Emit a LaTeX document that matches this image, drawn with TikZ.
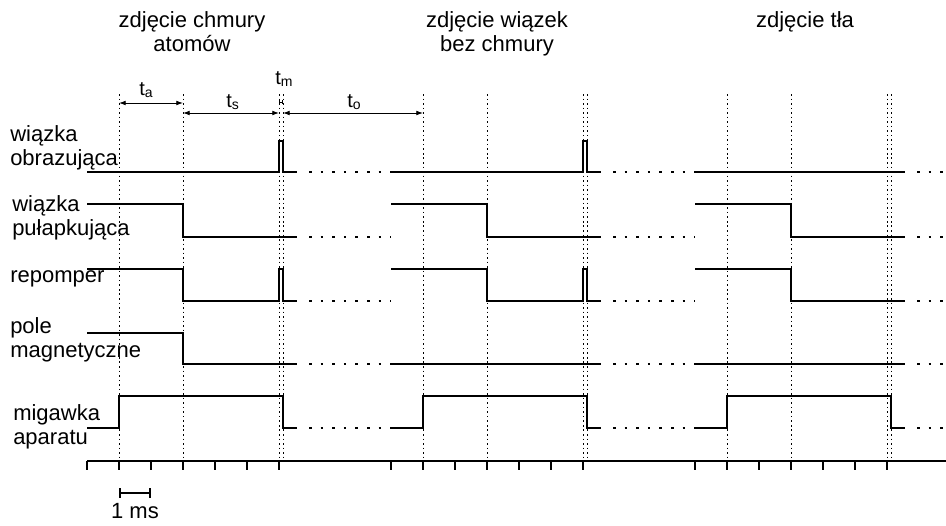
\documentclass[tikz,border=0pt]{standalone}
\usepackage{fontspec}
\setmainfont{Liberation Sans}
\usepackage{tikz}
\usetikzlibrary{calc}
\usetikzlibrary{positioning, arrows.meta}

\begin{document}
\begin{tikzpicture}[x=0.75pt, y=-0.75pt,
    font=\fontsize{16.5}{18}\selectfont,
    signal/.style={line width=1.9pt},
    cont/.style={line width=1.9pt, dash pattern=on 2pt off 6.7pt},
    guide/.style={line width=0.7pt, dash pattern=on 1.2pt off 2.2pt},
    axis/.style={line width=1.6pt},
    dim/.style={line width=0.6pt, {Latex[length=5pt,width=3.5pt]}-{Latex[length=5pt,width=3.5pt]}},
    lbl/.style={anchor=north west, align=left, inner sep=0pt},
    ttl/.style={anchor=north, align=center, inner sep=0pt},
    tlbl/.style={anchor=base west, inner sep=0pt, font=\fontsize{15}{18}\selectfont}]
    \useasboundingbox (0,0) rectangle (946,525);
    % Titles
    \node (tyt1) [ttl] at (192,11.5) {zdjęcie chmury\\atomów};
    \node (tyt2) [ttl] at (497,11.5) {zdjęcie wiązek\\bez chmury};
    \node (tyt3) [ttl] at (805,11.5) {zdjęcie tła};
    % Signal names
    \node (obr) [lbl] at (10,125) {wiązka\\obrazująca};
    \node (pul) [lbl] at (12,195) {wiązka\\pułapkująca};
    \node (rep) [lbl, anchor=base west] at (10,282) {repomper};
    \node (pole) [lbl] at (10,317) {pole\\magnetyczne};
    \node (mig) [lbl] at (13,404) {migawka\\aparatu};
    % Guide lines
    \foreach \s/\n in {87/1, 391/2, 695/3} {
        \foreach \d/\g in {32/a, 96/s, 192/m, 196/o} {
            \coordinate (g\n\g) at (\s+\d,94);
            \draw[guide] (g\n\g) -- (\s+\d,461);
        }
    }
    % Time intervals
    \draw[dim] ($(g1a)+(0,9)$) -- ($(g1s)+(0,9)$);
    \draw[dim] ($(g1s)+(0,19)$) -- ($(g1m)+(0,19)$);
    \draw[dim] ($(g1o)+(0,19)$) -- ($(g2a)+(0,19)$);
    \draw[line width=0.4pt, {Bar[width=3pt]}-{Bar[width=3pt]}] ($(g1m)+(0,8)$) -- ($(g1o)+(0,8)$);
    \node (lta) [tlbl] at (139,95) {t\textsubscript{a}};
    \node (lts) [tlbl] at (226,107) {t\textsubscript{s}};
    \node (ltm) [tlbl] at (275,84) {t\textsubscript{m}};
    \node (lto) [tlbl] at (347,107) {t\textsubscript{o}};
    % Signals
    \foreach \s/\p/\b in {87/1/1, 391/1/0, 695/0/0} {
        \pgfmathsetmacro{\ende}{min(\s+304,946)}
        \ifnum\p=1
            \draw[signal] (\s,172) -- (\s+192,172) |- (\s+196,141) |- (\s+210,172);
            \draw[signal] (\s,269) -- (\s+96,269) |- (\s+192,301) |- (\s+196,269) |- (\s+210,301);
        \else
            \draw[signal] (\s,172) -- (\s+210,172);
            \draw[signal] (\s,269) -- (\s+96,269) |- (\s+210,301);
        \fi
        \draw[signal] (\s,204) -- (\s+96,204) |- (\s+210,237);
        \ifnum\b=1
            \draw[signal] (\s,333) -- (\s+96,333) |- (\s+210,364);
        \else
            \draw[signal] (\s,364) -- (\s+210,364);
        \fi
        \draw[signal] (\s,428) -| (\s+32,396) -| (\s+196,428) -- (\s+210,428);
        \foreach \y in {172,237,301,364,428}
            \draw[cont] (\s+222,\y) -- (\ende,\y);
    }
    % Time axis
    \draw[axis] (87,461) -- (946,461);
    \foreach \s in {87,391,695}
        \foreach \k in {0,...,6}
            \draw[axis] (\s+32*\k,461) -- (\s+32*\k,470);
    % Scale
    \coordinate (ms0) at (119,493);
    \coordinate (ms1) at (151,493);
    \draw[axis, {Bar[width=7pt]}-{Bar[width=7pt]}] (ms0) -- (ms1);
    \node (ms) [anchor=base, inner sep=0pt] at (135,518) {1 ms};
\end{tikzpicture}
\end{document}
